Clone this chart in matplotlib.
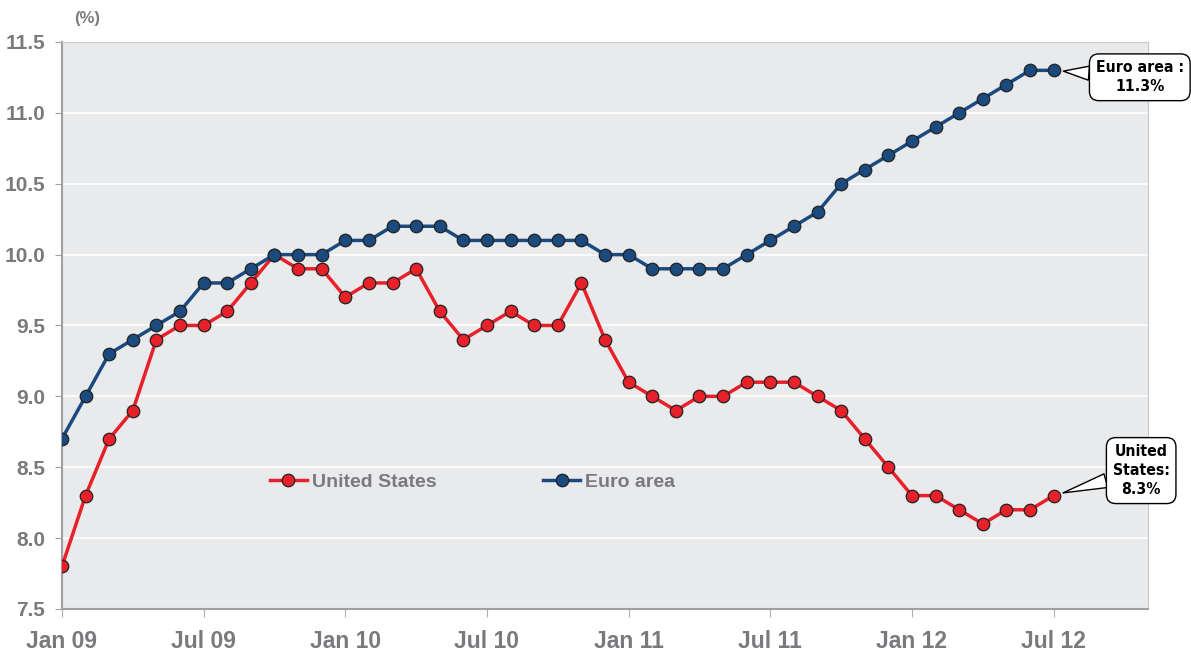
import matplotlib
matplotlib.use("Agg")
import matplotlib.pyplot as plt

plt.rcParams['font.family'] = ['Liberation Sans', 'DejaVu Sans']

# monthly data, Jan 09 .. Jul 12
months = list(range(43))
us = [7.8, 8.3, 8.7, 8.9, 9.4, 9.5, 9.5, 9.6, 9.8, 10.0, 9.9, 9.9,
      9.7, 9.8, 9.8, 9.9, 9.6, 9.4, 9.5, 9.6, 9.5, 9.5, 9.8, 9.4,
      9.1, 9.0, 8.9, 9.0, 9.0, 9.1, 9.1, 9.1, 9.0, 8.9, 8.7, 8.5,
      8.3, 8.3, 8.2, 8.1, 8.2, 8.2, 8.3]
euro = [8.7, 9.0, 9.3, 9.4, 9.5, 9.6, 9.8, 9.8, 9.9, 10.0, 10.0, 10.0,
        10.1, 10.1, 10.2, 10.2, 10.2, 10.1, 10.1, 10.1, 10.1, 10.1, 10.1, 10.0,
        10.0, 9.9, 9.9, 9.9, 9.9, 10.0, 10.1, 10.2, 10.3, 10.5, 10.6, 10.7,
        10.8, 10.9, 11.0, 11.1, 11.2, 11.3, 11.3]
tick_pos = [0, 6, 12, 18, 24, 30, 36, 42]
tick_labels = ["Jan 09", "Jul 09", "Jan 10", "Jul 10", "Jan 11", "Jul 11", "Jan 12", "Jul 12"]
y_ticks = [7.5, 8.0, 8.5, 9.0, 9.5, 10.0, 10.5, 11.0, 11.5]

gray = "#7a7a7e"
red = "#e8202a"
blue = "#1b4a7e"

fig = plt.figure(figsize=(11.91, 6.53), dpi=100)
ax = fig.add_axes([0.052, 0.0674, 0.912, 0.8683])
ax.set_facecolor("#e9eaec")

ax.plot(months, us, color=red, lw=2.5, marker='o', ms=9, mfc=red,
        mec="#222222", mew=0.9, label="United States", zorder=3)
ax.plot(months, euro, color=blue, lw=2.5, marker='o', ms=9, mfc=blue,
        mec="#222222", mew=0.9, label="Euro area", zorder=3)

ax.set_xlim(0, 46)
ax.set_ylim(7.5, 11.5)
ax.set_yticks(y_ticks)
ax.set_yticklabels([f"{v:.1f}" for v in y_ticks], fontsize=15, fontweight='bold', color=gray)
ax.set_xticks(tick_pos)
ax.set_xticklabels(tick_labels, fontsize=16.5, fontweight='bold', color=gray)
ax.tick_params(axis='y', length=5, color="#a0a0a0", pad=7)
ax.tick_params(axis='x', length=6, color="#b0b0b0", pad=9)

ax.grid(axis='y', color='white', lw=1.2)
ax.set_axisbelow(True)
for s in ['top', 'right']:
    ax.spines[s].set_color("#c8c8c8")
for s in ['left', 'bottom']:
    ax.spines[s].set_color("#a0a0a0")
    ax.spines[s].set_linewidth(1.5)

fig.text(0.062, 0.972, "(%)", fontsize=12, fontweight='bold', color=gray, va='center')

leg = ax.legend(loc='center', bbox_to_anchor=(0.378, 0.224), ncol=2, frameon=False,
                fontsize=14, columnspacing=5.5, handlelength=1.9, handletextpad=0.25)
for t in leg.get_texts():
    t.set_color(gray)
    t.set_fontweight('bold')

# callout boxes at the last points
callout_font = ['DejaVu Sans']
box = dict(boxstyle="round,pad=0.4,rounding_size=0.6", fc='white', ec='black', lw=1.0)
arrow = dict(arrowstyle="wedge,tail_width=0.9", fc='white', ec='black', lw=1.0,
             shrinkA=0, shrinkB=7)
ax.annotate("Euro area :\n11.3%", xy=(months[-1], euro[-1]), xytext=(62, -5),
            textcoords='offset points', ha='center', va='center', fontsize=11.3,
            fontweight='bold', family=callout_font, fontstretch='condensed',
            linespacing=1.35, bbox=box, arrowprops=arrow, annotation_clip=False, zorder=5)
ax.annotate("United\nStates:\n8.3%", xy=(months[-1], us[-1]), xytext=(63, 18),
            textcoords='offset points', ha='center', va='center', fontsize=11.3,
            fontweight='bold', family=callout_font, fontstretch='condensed',
            linespacing=1.35, bbox=box, arrowprops=arrow, annotation_clip=False, zorder=5)

fig.savefig("out.png", dpi=100)
